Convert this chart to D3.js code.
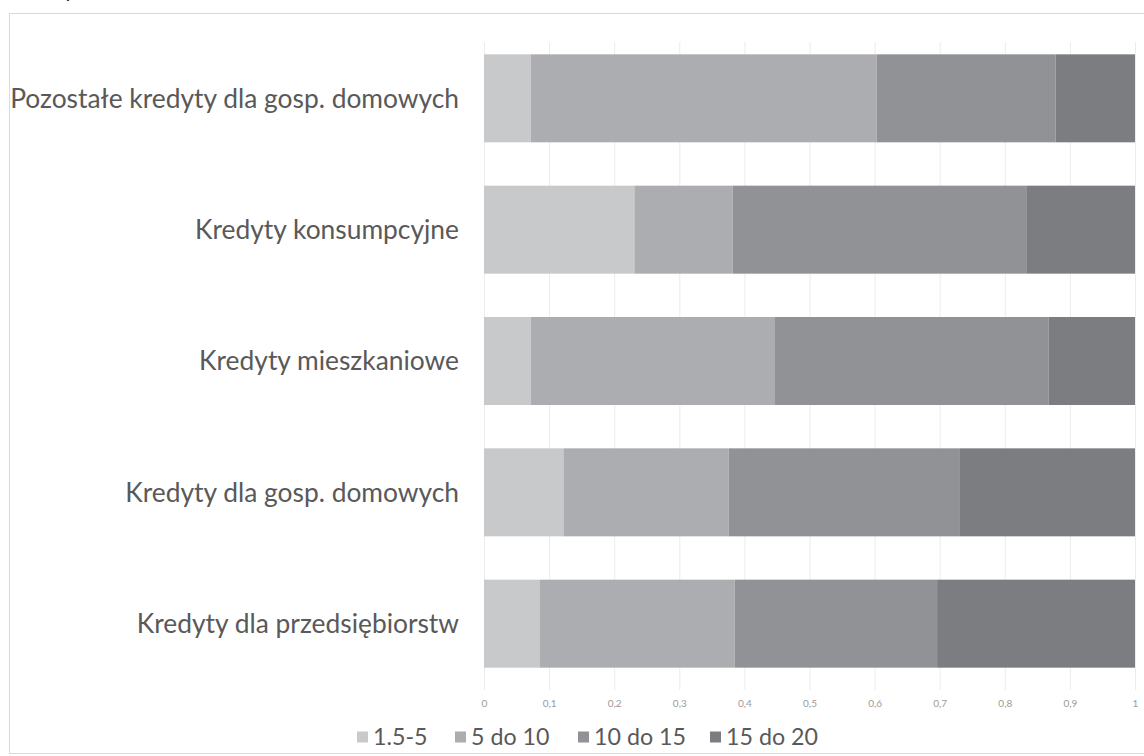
<!DOCTYPE html>
<html>
<head>
<meta charset="utf-8">
<script src="https://cdn.jsdelivr.net/npm/d3@7"></script>
<style>
  body { margin: 0; background: #fff; }
  svg { display: block; }
  text { font-family: "Lato", "Open Sans", sans-serif; }
</style>
</head>
<body>
<svg id="chart" width="1144" height="756"></svg>
<script>
const categories = [
  "Pozostałe kredyty dla gosp. domowych",
  "Kredyty konsumpcyjne",
  "Kredyty mieszkaniowe",
  "Kredyty dla gosp. domowych",
  "Kredyty dla przedsiębiorstw"
];
const seriesNames = ["1.5-5", "5 do 10", "10 do 15", "15 do 20"];
const s1 = [0.072, 0.231, 0.072, 0.122, 0.086];
const s2 = [0.531, 0.151, 0.375, 0.254, 0.299];
const s3 = [0.275, 0.452, 0.420, 0.354, 0.311];
const s4 = [0.122, 0.166, 0.133, 0.270, 0.304];
const tickValues = [0, 0.1, 0.2, 0.3, 0.4, 0.5, 0.6, 0.7, 0.8, 0.9, 1];
const tickLabels = ["0", "0,1", "0,2", "0,3", "0,4", "0,5", "0,6", "0,7", "0,8", "0,9", "1"];
const colors = ["#c8c9cb", "#acadb0", "#919295", "#7c7d81"];

const rows = categories.map((c, i) => ({ cat: c, "1.5-5": s1[i], "5 do 10": s2[i], "10 do 15": s3[i], "15 do 20": s4[i] }));
const stacked = d3.stack().keys(seriesNames)(rows);

const svg = d3.select("#chart");

// outer frame
svg.append("rect").attr("x", 9.5).attr("y", 13.5).attr("width", 1150).attr("height", 740)
  .attr("fill", "#fff").attr("stroke", "#d9d9d9").attr("stroke-width", 1);

// cut-off text above
svg.append("text").attr("x", 64).attr("y", -3).attr("font-size", 22).attr("fill", "#222").text("y");

const x = d3.scaleLinear().domain([0, 1]).range([484, 1135]);
const y = d3.scaleBand().domain(categories).range([32, 690]).paddingInner(0.33).paddingOuter(0.17);

// gridlines
svg.append("g").selectAll("line").data(tickValues).join("line")
  .attr("x1", d => x(d) + 0.5).attr("x2", d => x(d) + 0.5)
  .attr("y1", 42).attr("y2", 690)
  .attr("stroke", "#ececec").attr("stroke-width", 1);

// bars
svg.append("g").selectAll("g").data(stacked).join("g")
  .attr("fill", (d, i) => colors[i])
  .selectAll("rect").data(d => d).join("rect")
  .attr("x", d => x(d[0]))
  .attr("width", d => x(d[1]) - x(d[0]))
  .attr("y", d => y(d.data.cat))
  .attr("height", y.bandwidth());

// x axis
const xAxis = d3.axisBottom(x).tickValues(tickValues).tickFormat((d, i) => tickLabels[i]).tickSize(0).tickPadding(0);
const gx = svg.append("g").attr("transform", "translate(0,700)").call(xAxis);
gx.select(".domain").remove();
gx.selectAll("text").attr("font-size", 10).attr("fill", "#9a9a9a").attr("font-family", "Lato");

// y labels
const yAxis = d3.axisLeft(y).tickSize(0).tickPadding(0);
const gy = svg.append("g").attr("transform", "translate(459,0)").call(yAxis);
gy.select(".domain").remove();
const labels = gy.selectAll("text").attr("font-size", 20).attr("fill", "#595959").attr("font-family", "Lato").attr("dy", "0.35em");
let maxW = 0;
labels.each(function () { maxW = Math.max(maxW, this.getComputedTextLength()); });
const labelSize = 20 * 449 / maxW;
labels.attr("font-size", labelSize);

// legend
const legendX = [357, 455, 578, 710];
const lg = svg.append("g").selectAll("g").data(seriesNames).join("g")
  .attr("transform", (d, i) => `translate(${legendX[i]},737)`);
lg.append("rect").attr("x", 0).attr("y", -5.5).attr("width", 11).attr("height", 11).attr("fill", (d, i) => colors[i]);
const lt = lg.append("text").attr("x", 16).attr("y", 0).attr("dy", "0.35em").attr("font-size", 20)
  .attr("fill", "#595959").attr("font-family", "Lato").text(d => d);
const lastW = lt.nodes()[3].getComputedTextLength();
lt.attr("font-size", 20 * 92 / lastW);
</script>
</body>
</html>
